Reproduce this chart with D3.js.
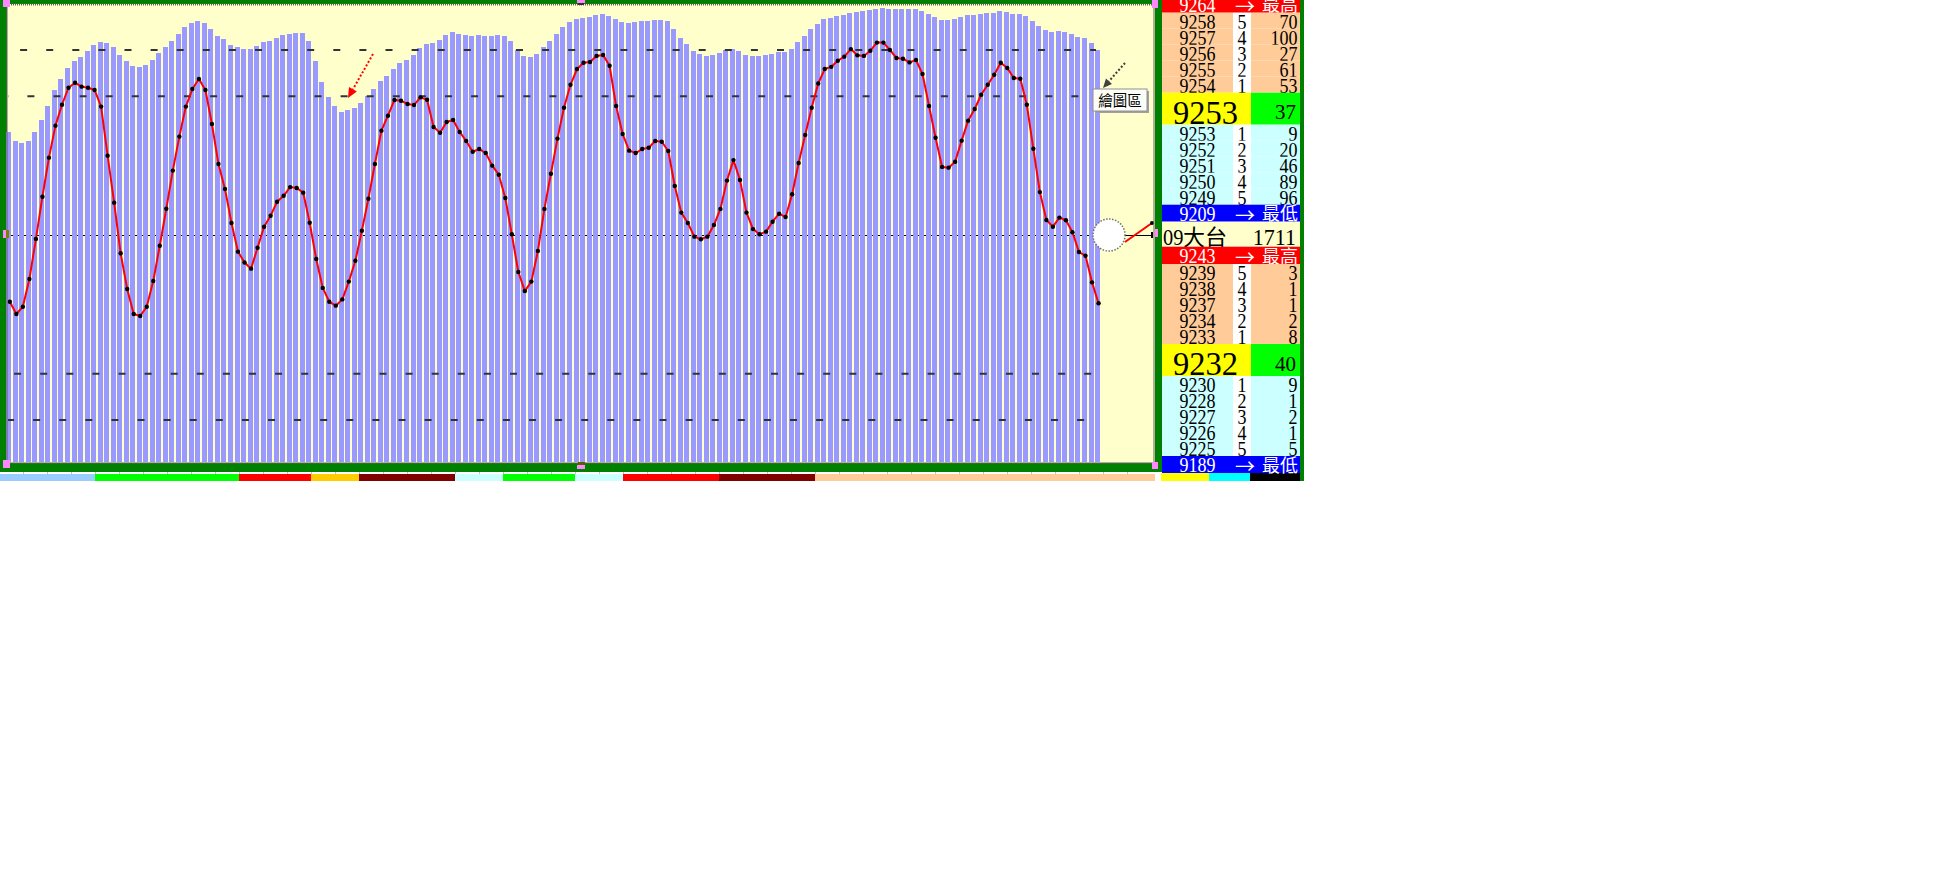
<!DOCTYPE html>
<html><head><meta charset="utf-8">
<script src="https://cdn.jsdelivr.net/npm/d3@7"></script>
<style>html,body{margin:0;padding:0;background:#fff;}svg{display:block;}</style>
</head><body>
<script>
// ---------- data ----------
const barValues = [72.3,70.5,70.0,70.5,72.3,74.9,78.1,81.5,84.0,86.4,
88.0,88.8,90.2,91.5,92.1,91.8,90.9,89.3,88.0,86.9,
86.7,87.1,88.2,89.6,90.9,92.3,93.9,95.5,96.3,96.8,
96.3,95.0,93.5,92.7,91.5,90.9,90.6,90.6,91.2,92.0,
92.3,93.0,93.6,93.9,94.1,94.1,92.3,88.0,83.4,80.1,
78.0,76.8,77.2,77.7,78.8,80.2,81.8,83.6,84.7,86.2,
87.4,88.2,89.3,90.8,91.7,91.9,92.6,93.7,94.3,93.9,
93.7,93.4,93.7,93.4,93.4,93.7,93.4,92.3,90.4,89.1,
88.8,89.5,91.0,92.3,93.9,95.4,96.5,97.2,97.4,97.6,
98.0,98.2,97.8,97.2,96.5,96.3,96.5,96.7,96.7,96.9,
96.9,96.7,95.0,93.0,91.7,90.2,89.5,89.1,89.3,89.7,
90.4,90.6,90.2,89.3,89.1,89.1,89.3,89.5,89.9,89.9,
90.6,92.1,93.5,95.0,96.1,97.2,97.4,97.8,98.1,98.5,
98.7,98.9,99.1,99.3,99.6,99.3,99.3,99.3,99.3,99.3,
98.9,98.2,97.6,96.9,96.9,97.2,97.6,98.0,98.0,98.2,
98.5,98.5,98.9,98.7,98.2,98.2,97.8,96.7,95.6,94.7,
94.3,94.5,94.3,93.9,93.2,93.0,91.9,90.4];

const lineValues = [-36.1,-42.7,-38.8,-23.8,-2.2,20.7,41.8,59.1,70.4,79.6,
82.3,80.2,79.6,78.4,69.4,42.9,17.5,-9.9,-29.2,-42.7,
-43.8,-38.8,-24.9,-5.8,14.2,34.8,53.2,69.4,78.9,84.3,
78.4,60.0,38.4,24.9,6.5,-9.0,-14.9,-18.2,-6.9,4.5,
10.4,18.0,21.2,25.9,25.4,22.9,6.6,-13.0,-28.6,-36.1,
-38.2,-34.8,-25.2,-13.9,2.3,19.6,38.4,56.4,64.5,73.0,
72.6,70.8,70.3,74.4,73.1,58.4,55.3,61.1,62.2,55.7,
50.8,45.0,46.5,44.3,37.5,32.6,20.0,0.4,-20.0,-30.3,
-25.2,-8.6,14.1,33.1,52.1,68.8,81.2,89.7,93.1,93.5,
96.8,97.3,91.5,69.7,54.6,45.6,44.3,46.5,47.2,50.8,
50.4,45.4,26.5,12.1,6.5,-0.9,-2.3,-0.9,5.4,14.1,
29.4,40.5,29.7,12.1,3.2,0.4,1.8,7.2,11.5,9.7,
22.0,38.9,54.1,68.8,81.9,89.7,90.9,94.2,96.4,100.5,
97.1,96.8,99.6,104.0,104.0,100.0,95.7,95.3,93.3,94.6,
87.0,69.7,52.6,36.8,36.4,39.6,51.0,61.8,68.1,75.8,
81.2,86.6,93.1,90.3,84.9,84.5,70.4,46.6,23.2,8.1,
4.5,9.4,8.0,1.5,-9.2,-11.2,-25.6,-36.9];

const levelValues = [100, 75, -75, -100];
const zeroLevel = 0;

const askLevels = [5, 4, 3, 2, 1];
const bidLevels = [1, 2, 3, 4, 5];

const high1 = 9264, low1 = 9209;
const askPrices1 = [9258, 9257, 9256, 9255, 9254];
const askVols1 = [70, 100, 27, 61, 53];
const last1 = 9253, lastVol1 = 37;
const bidPrices1 = [9253, 9252, 9251, 9250, 9249];
const bidVols1 = [9, 20, 46, 89, 96];

const contractCode = "09", contractName = "大台", contractVol = 1711;

const high2 = 9243, low2 = 9189;
const askPrices2 = [9239, 9238, 9237, 9234, 9233];
const askVols2 = [3, 1, 1, 2, 8];
const last2 = 9232, lastVol2 = 40;
const bidPrices2 = [9230, 9228, 9227, 9226, 9225];
const bidVols2 = [9, 1, 2, 1, 5];

const highLabel = "最高", lowLabel = "最低", arrowLabel = "→";
const calloutLabel = "繪圖區";

// ---------- drawing ----------
const SERIF = '"Liberation Serif","Times New Roman",serif';
const CJK = '"Noto Sans CJK TC","Noto Sans CJK SC",sans-serif';
const svg = d3.select('body').append('svg').attr('width', 1952).attr('height', 894);

function rect(x, y, w, h, fill, parent) {
  return (parent || svg).append('rect').attr('x', x).attr('y', y).attr('width', w).attr('height', h).attr('fill', fill);
}
function label(x, y, s, o = {}) {
  const g = svg.append('g').attr('transform', `translate(${x},${y}) scale(${o.sx ?? 1},1)`);
  g.append('text').attr('text-anchor', o.anchor || 'middle')
    .attr('font-family', o.family || SERIF).attr('font-size', o.size || 20.5)
    .attr('fill', o.fill || '#000').text(s);
}

// chart frame
rect(0, 0, 1162, 472, '#008000');
rect(7, 4, 1148, 459, '#ffffcc');

const x = d3.scaleBand().domain(d3.range(barValues.length)).range([5.57, 1100.8])
  .paddingInner(0.233).paddingOuter(0.1165);
const yBar = d3.scaleLinear().domain([0, 100]).range([462, 6]);
const yLine = d3.scaleLinear().domain([-100, 100]).range([420, 50]);
const xc = i => x(i) + x.bandwidth() / 2 + 1;

// zero line (behind bars)
svg.append('line').attr('x1', 8).attr('x2', 1152)
  .attr('y1', Math.round(yLine(zeroLevel)) + 0.5).attr('y2', Math.round(yLine(zeroLevel)) + 0.5)
  .attr('stroke', '#000').attr('stroke-width', 1);

// bars
svg.append('g').selectAll('rect').data(barValues).join('rect')
  .attr('x', (d, i) => x(i)).attr('width', x.bandwidth())
  .attr('y', d => yBar(d)).attr('height', d => yBar(0) - yBar(d))
  .attr('fill', '#9999ff').attr('shape-rendering', 'crispEdges');

// dashed level lines
const dashOffsets = {100: 14, 75: 6.7, '-75': 20, '-100': 1};
svg.append('g').selectAll('line').data(levelValues).join('line')
  .attr('x1', 8).attr('x2', 1096)
  .attr('y1', d => yLine(d)).attr('y2', d => yLine(d))
  .attr('stroke', '#333').attr('stroke-width', 2)
  .attr('stroke-dasharray', '7,19.1').attr('stroke-dashoffset', d => dashOffsets[d]);

// red line + dots
const line = d3.line().x((d, i) => xc(i)).y(d => yLine(d));
svg.append('path').datum(lineValues).attr('d', line)
  .attr('fill', 'none').attr('stroke', '#ff0000').attr('stroke-width', 2).attr('stroke-linejoin', 'round');
svg.append('g').selectAll('circle').data(lineValues).join('circle')
  .attr('cx', (d, i) => xc(i)).attr('cy', d => yLine(d)).attr('r', 2.2).attr('fill', '#000');

// red dotted arrow
function arrow(x1, y1, x2, y2, color, head, half) {
  const dx = x2 - x1, dy = y2 - y1, L = Math.hypot(dx, dy), ux = dx / L, uy = dy / L;
  const bx = x2 - ux * head, by = y2 - uy * head;
  svg.append('line').attr('x1', x1).attr('y1', y1).attr('x2', bx).attr('y2', by)
    .attr('stroke', color).attr('stroke-width', 2).attr('stroke-dasharray', '2,2');
  svg.append('path').attr('d', `M${x2},${y2}L${bx - uy * half},${by + ux * half}L${bx + uy * half},${by - ux * half}Z`).attr('fill', color);
}
arrow(373, 54, 348, 98, '#ff0000', 10, 4.5);
arrow(1125, 63, 1103, 88, '#404040', 9, 4);

// callout label
rect(1095, 91, 54, 22, '#a0a0a0');
svg.append('rect').attr('x', 1093).attr('y', 89).attr('width', 54).attr('height', 22)
  .attr('fill', '#fdfdf8').attr('stroke', '#909090').attr('stroke-width', 1);
label(1120, 106, calloutLabel, {family: CJK, size: 14.5});

// circle marker at right
const yz = yLine(zeroLevel);
svg.append('line').attr('x1', 1120).attr('x2', 1152).attr('y1', yz + 0.5).attr('y2', yz + 0.5).attr('stroke', '#000').attr('stroke-width', 1);
svg.append('circle').attr('cx', 1109).attr('cy', yz).attr('r', 16).attr('fill', '#fff')
  .attr('stroke', '#707070').attr('stroke-width', 1.5).attr('stroke-dasharray', '1.5,1.5');
svg.append('line').attr('x1', 1125).attr('y1', yz + 7).attr('x2', 1152).attr('y2', yz - 12).attr('stroke', '#ff0000').attr('stroke-width', 2);
svg.append('circle').attr('cx', 1152).attr('cy', yz - 12).attr('r', 2).attr('fill', '#000');
rect(1151, yz - 3, 2, 6, '#000');

// selection border
svg.append('rect').attr('x', 7).attr('y', 4.5).attr('width', 1147).attr('height', 458.5)
  .attr('fill', 'none').attr('stroke', '#606060').attr('stroke-width', 2).attr('stroke-dasharray', '1,1');
// handles
const pink = '#ff88ff';
rect(3, 0, 7, 7, pink); rect(577, 0, 8, 3, pink); rect(578, 3, 6, 2, '#303030');
rect(1152, 0, 6, 8, pink); rect(3, 230, 3, 8, pink); rect(6, 230, 3, 8, '#808000');
rect(1155, 229, 3, 8, pink); rect(3, 460, 7, 8, pink);
rect(577, 465, 8, 4, pink); rect(578, 462, 7, 3, '#606000'); rect(1152, 462, 6, 7, pink);

// bottom strip
const stripEdges = [0, 95, 239, 311, 359, 455, 503, 575, 623, 719, 815, 1155];
const stripFills = ['#99ccff', '#00ff00', '#ff0000', '#ffcc00', '#800000', '#ccffff', '#00ff00', '#ccffff', '#ff0000', '#800000', '#ffcc99'];
stripFills.forEach((f, i) => rect(stripEdges[i], 474, stripEdges[i + 1] - stripEdges[i], 7, f));
for (let gx = 23; gx < 1150; gx += 24) rect(gx, 472, 1, 2, '#c0c0c0');
rect(1161, 473, 48, 8, '#ffff00'); rect(1209, 473, 41, 8, '#00ffff'); rect(1250, 473, 50, 8, '#000000');

// ---------- order book panel ----------
const C0 = 1162, C1 = 1233, C2 = 1251, C3 = 1300;
const small = {size: 20.5, sx: 0.878};
function headRow(top, h, price, fill, word) {
  rect(C0, top, C3 - C0, h, fill);
  const b = top + h;
  label((C0 + C1) / 2, b - 1.2, price, {...small, fill: '#fff'});
  label(1235, b + 0.8, arrowLabel, {family: CJK, size: 20, anchor: 'start', fill: '#fff'});
  label(1298, b - 1.5, word, {family: CJK, size: 18, anchor: 'end', fill: '#fff'});
  return b;
}
function bookRows(top, prices, lvls, vols, fill) {
  let y = top;
  prices.forEach((p, i) => {
    rect(C0, y, C1 - C0, 16, fill); rect(C1, y, C2 - C1, 16, '#ffffff'); rect(C2, y, C3 - C2, 16, fill);
    label((C0 + C1) / 2, y + 16.3, p, small);
    label((C1 + C2) / 2, y + 16.3, lvls[i], small);
    label(1297.5, y + 16.3, vols[i], {...small, anchor: 'end'});
    y += 16;
  });
  return y;
}
function lastRow(top, price, vol) {
  rect(C0, top, C2 - C0, 32, '#ffff00'); rect(C2, top, C3 - C2, 32, '#00ff00');
  label(1205.5, top + 30.8, price, {size: 34, sx: 0.956});
  label(1296, top + 26.5, vol, {size: 20, sx: 1.05, anchor: 'end'});
  return top + 32;
}
function book(top, headH, high, askP, askV, last, lastV, bidP, bidV, low) {
  let y = headRow(top, headH, high, '#ff0000', highLabel);
  y = bookRows(y, askP, askLevels, askV, '#ffcc99');
  y = lastRow(y, last, lastV);
  y = bookRows(y, bidP, bidLevels, bidV, '#ccffff');
  return headRow(y, 17, low, '#0000ff', lowLabel);
}
let yb = book(-3.3, 16, high1, askPrices1, askVols1, last1, lastVol1, bidPrices1, bidVols1, low1);
rect(C0, yb, C3 - C0, 25, '#ffffcc');
label(1163, yb + 23.3, contractCode, {size: 24, sx: 0.85, anchor: 'start'});
label(1183, yb + 23.3, contractName, {family: CJK, size: 22, anchor: 'start'});
label(1296, yb + 23.3, contractVol, {size: 24, sx: 0.92, anchor: 'end'});
book(yb + 25, 17.3, high2, askPrices2, askVols2, last2, lastVol2, bidPrices2, bidVols2, low2);

rect(C3, 0, 4, 481, '#008000');
rect(1156, 0, 6, 472, '#008000');
rect(1152, 0, 6, 8, pink); rect(1155, 229, 3, 8, pink); rect(1152, 462, 6, 7, pink);
</script>
</body></html>
